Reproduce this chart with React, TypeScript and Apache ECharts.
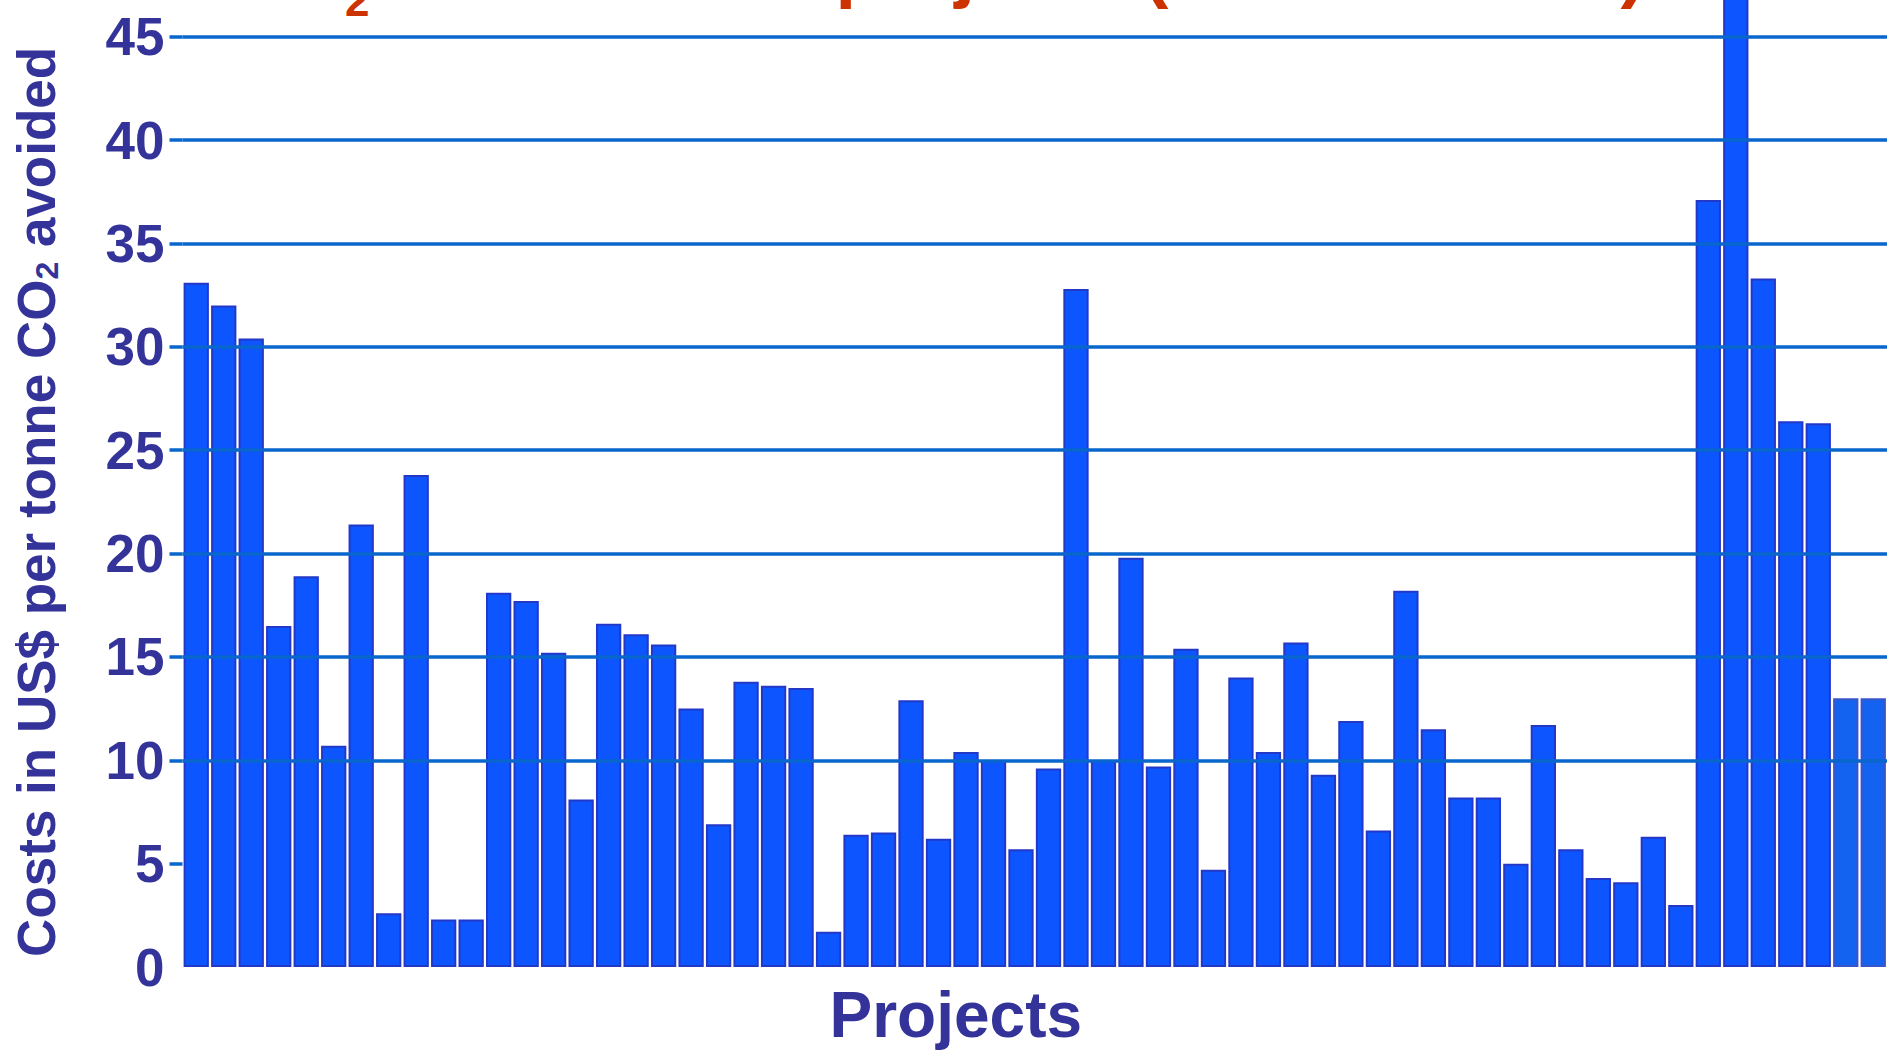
import React, { useEffect, useRef } from "react";
import * as echarts from "echarts";

// ---- Data ----
const costValues: number[] = [
  33.1, 32.0, 30.4, 16.5, 18.9, 10.7, 21.4, 2.6, 23.8, 2.3,
  2.3, 18.1, 17.7, 15.2, 8.1, 16.6, 16.1, 15.6, 12.5, 6.9,
  13.8, 13.6, 13.5, 1.7, 6.4, 6.5, 12.9, 6.2, 10.4, 10.0,
  5.7, 9.6, 32.8, 10.0, 19.8, 9.7, 15.4, 4.7, 14.0, 10.4,
  15.7, 9.3, 11.9, 6.6, 18.2, 11.5, 8.2, 8.2, 5.0, 11.7,
  5.7, 4.3, 4.1, 6.3, 3.0, 37.1, 50.0, 33.3, 26.4, 26.3,
  13.0, 13.0,
];
const projectNames: string[] = costValues.map((_, i) => `Project ${i + 1}`);
const lighterProjects: number[] = [60, 61]; // indices drawn in the slightly lighter blue
const yTickValues: number[] = [0, 5, 10, 15, 20, 25, 30, 35, 40, 45];

const FONT = '"Liberation Sans", Arial, Helvetica, sans-serif';
const NAVY = "#333399";
const GRID_BLUE = "#0866cc";
const TITLE_RED = "#cc3300";

export default function App() {
  const ref = useRef<HTMLDivElement>(null);

  useEffect(() => {
    if (!ref.current) return;
    const chart = echarts.init(ref.current, undefined, { renderer: "svg" });

    const barData = costValues.map((v, i) =>
      lighterProjects.includes(i)
        ? { value: v, itemStyle: { color: "#1463f0", borderColor: "#3a55c8" } }
        : v
    );

    chart.setOption({
      animation: false,
      backgroundColor: "#ffffff",
      grid: { left: 182.5, right: -2.5, top: 36.7, bottom: 83, containLabel: false },
      xAxis: {
        type: "category",
        data: projectNames,
        axisLine: { show: false },
        axisTick: { show: false },
        axisLabel: { show: false },
        splitLine: { show: false },
        name: "Projects",
        nameLocation: "middle",
        nameGap: 16,
        nameTextStyle: {
          fontFamily: FONT,
          fontWeight: "bold",
          fontSize: 64,
          color: NAVY,
          padding: [0, 158, 0, 0],
        },
      },
      yAxis: {
        type: "value",
        min: yTickValues[0],
        max: yTickValues[yTickValues.length - 1],
        interval: 5,
        z: 10,
        axisLine: { show: false },
        axisTick: {
          show: true,
          length: 13,
          customValues: yTickValues.slice(1),
          lineStyle: { color: GRID_BLUE, width: 3.5 },
        },
        axisLabel: {
          margin: 18,
          fontFamily: FONT,
          fontWeight: "bold",
          fontSize: 53,
          color: NAVY,
          padding: [0, 0, 10, 0],
        },
        splitLine: {
          show: true,
          showMinLine: false,
          lineStyle: { color: GRID_BLUE, width: 3.5 },
        },
        name: "{a|Costs in US$ per tonne CO}{s|2}{a| avoided}",
        nameLocation: "middle",
        nameRotate: 90,
        nameGap: 120,
        nameTextStyle: {
          rich: {
            a: { fontFamily: FONT, fontWeight: "bold", fontSize: 53, color: NAVY },
            s: {
              fontFamily: FONT,
              fontWeight: "bold",
              fontSize: 32,
              color: NAVY,
              verticalAlign: "bottom",
            },
          },
        },
      },
      series: [
        {
          type: "bar",
          data: barData,
          clip: false,
          barCategoryGap: "8%",
          itemStyle: { color: "#0d55ff", borderColor: "#2438c8", borderWidth: 2 },
        },
      ],
      graphic: [
        {
          type: "text",
          x: 234,
          y: -32,
          style: {
            text: "CO",
            fontFamily: FONT,
            fontWeight: "bold",
            fontSize: 74,
            fill: TITLE_RED,
            verticalAlign: "middle",
          },
        },
        {
          type: "text",
          x: 345,
          y: 0.5,
          style: {
            text: "2",
            fontFamily: FONT,
            fontWeight: "bold",
            fontSize: 44,
            fill: TITLE_RED,
            verticalAlign: "middle",
          },
        },
        {
          type: "text",
          x: 379,
          y: -32,
          style: {
            text: " costs of the projects (without CDM)",
            fontFamily: FONT,
            fontWeight: "bold",
            fontSize: 74,
            fill: TITLE_RED,
            verticalAlign: "middle",
          },
        },
      ],
    });

    return () => chart.dispose();
  }, []);

  return (
    <div
      ref={ref}
      style={{ position: "fixed", left: 0, top: 0, width: 1887, height: 1052, background: "#fff" }}
    />
  );
}
